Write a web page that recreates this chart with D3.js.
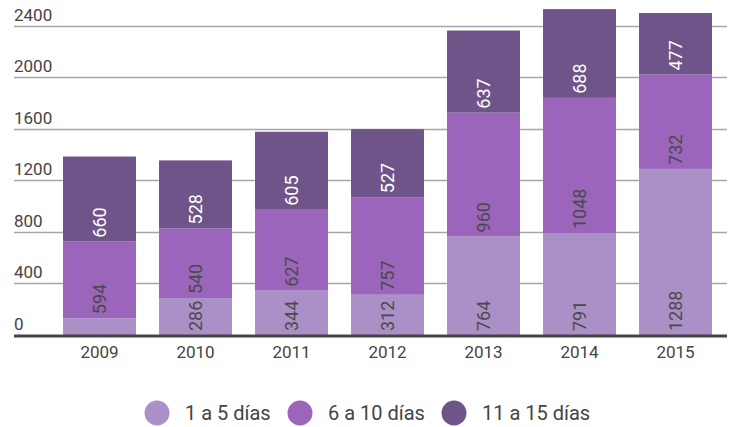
<!DOCTYPE html>
<html>
<head>
<meta charset="utf-8">
<script src="https://cdn.jsdelivr.net/npm/d3@7"></script>
<style>
  body { margin: 0; background: #fff; }
  svg { display: block; font-family: Roboto, "Noto Sans", sans-serif; }
</style>
</head>
<body>
<svg id="chart" width="735" height="427"></svg>
<script>
// Data
const years = ['2009', '2010', '2011', '2012', '2013', '2014', '2015'];
const seriesNames = ['1 a 5 días', '6 a 10 días', '11 a 15 días'];
const days1to5 = [130, 286, 344, 312, 764, 791, 1288];
const days6to10 = [594, 540, 627, 757, 960, 1048, 732];
const days11to15 = [660, 528, 605, 527, 637, 688, 477];
const yTicks = [0, 400, 800, 1200, 1600, 2000, 2400];

const colors = ['#ab90c7', '#9a65ba', '#6f5489'];
const labelColors = ['#4a4a4a', '#4a4a4a', '#fff'];

const svg = d3.select('#chart');

// Build stack rows
const rows = years.map((y, i) => ({
  year: y,
  s0: days1to5[i],
  s1: days6to10[i],
  s2: days11to15[i]
}));
const stack = d3.stack().keys(['s0', 's1', 's2']);
const stacked = stack(rows);

const baseY = 335;
const x = d3.scaleBand()
  .domain(years)
  .range([51.5, 723.5])
  .paddingInner(0.24)
  .paddingOuter(0.12);

const y = d3.scaleLinear()
  .domain([0, 2400])
  .range([baseY, 25.5]);

// Grid lines + tick labels
const grid = svg.append('g');
grid.selectAll('line')
  .data(yTicks.filter(t => t > 0))
  .enter()
  .append('line')
  .attr('x1', 14)
  .attr('x2', 727)
  .attr('y1', d => Math.round(y(d)) + 0.5)
  .attr('y2', d => Math.round(y(d)) + 0.5)
  .attr('stroke', '#a6a6a6')
  .attr('stroke-width', 1.5);

grid.selectAll('text')
  .data(yTicks)
  .enter()
  .append('text')
  .attr('x', 14)
  .attr('y', d => y(d) - 5)
  .attr('fill', '#444')
  .style('font-size', '17px')
  .text(d => d);

// Bars
const layers = svg.append('g')
  .selectAll('g')
  .data(stacked)
  .enter()
  .append('g')
  .attr('fill', (d, i) => colors[i]);

layers.selectAll('rect')
  .data(d => d)
  .enter()
  .append('rect')
  .attr('x', d => x(d.data.year))
  .attr('width', x.bandwidth())
  .attr('y', d => y(d[1]))
  .attr('height', d => y(d[0]) - y(d[1]));

// Value labels, rotated, anchored at the bottom of each segment
stacked.forEach((layer, li) => {
  svg.append('g')
    .selectAll('text')
    .data(layer.filter(d => y(d[0]) - y(d[1]) > 25))
    .enter()
    .append('text')
    .attr('transform', d => `translate(${x(d.data.year) + x.bandwidth() / 2},${y(d[0]) - 4}) rotate(-90)`)
    .attr('dy', '0.35em')
    .attr('fill', labelColors[li])
    .style('font-size', '18px')
    .text(d => d[1] - d[0]);
});

// Baseline
svg.append('line')
  .attr('x1', 14)
  .attr('x2', 727)
  .attr('y1', y(0) + 1)
  .attr('y2', y(0) + 1)
  .attr('stroke', '#444')
  .attr('stroke-width', 3);

// X axis labels
svg.append('g')
  .attr('transform', `translate(0,${baseY + 3})`)
  .call(d3.axisBottom(x).tickSize(0).tickPadding(8))
  .call(g => g.select('.domain').remove())
  .selectAll('text')
  .attr('fill', '#444')
  .style('font-family', 'Roboto, sans-serif')
  .style('font-size', '17px');

// Legend
const legendX = [157, 300, 454];
const legend = svg.append('g')
  .selectAll('g')
  .data(seriesNames)
  .enter()
  .append('g')
  .attr('transform', (d, i) => `translate(${legendX[i]},413)`);

legend.append('circle')
  .attr('r', 12.5)
  .attr('fill', (d, i) => colors[i]);

legend.append('text')
  .attr('x', 28)
  .attr('dy', '0.35em')
  .attr('fill', '#444')
  .style('font-size', '20px')
  .text(d => d);
</script>
</body>
</html>
